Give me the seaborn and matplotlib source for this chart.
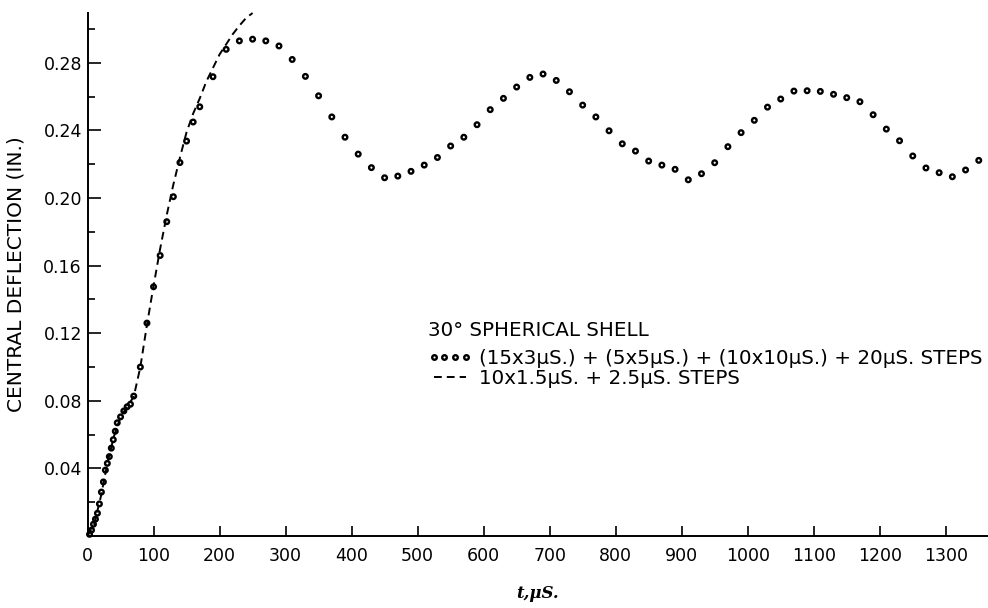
import matplotlib
matplotlib.use("Agg")
import matplotlib.pyplot as plt
import seaborn as sns
from matplotlib.lines import Line2D

# ---- data ----
circle_t = [3, 6, 9, 12, 15, 18, 21, 24, 27, 30, 33, 36, 39, 42, 45,
            50, 55, 60, 65, 70,
            80, 90, 100, 110, 120, 130, 140, 150, 160, 170,
            190, 210, 230, 250, 270, 290, 310, 330, 350, 370, 390, 410, 430, 450,
            470, 490, 510, 530, 550, 570, 590, 610, 630, 650, 670, 690, 710, 730,
            750, 770, 790, 810, 830, 850, 870, 890, 910, 930, 950, 970, 990, 1010,
            1030, 1050, 1070, 1090, 1110, 1130, 1150, 1170, 1190, 1210, 1230, 1250,
            1270, 1290, 1310, 1330, 1350]
circle_y = [0.001, 0.0035, 0.007, 0.010, 0.0135, 0.019, 0.026, 0.032, 0.039, 0.043,
            0.047, 0.052, 0.057, 0.062, 0.067,
            0.0705, 0.074, 0.0765, 0.078, 0.0828,
            0.100, 0.126, 0.1475, 0.166, 0.186, 0.2008, 0.221, 0.2337, 0.245, 0.254,
            0.2718, 0.288, 0.293, 0.294, 0.293, 0.290, 0.282, 0.272, 0.2605, 0.248,
            0.236, 0.226, 0.218, 0.212, 0.213, 0.2158, 0.2195, 0.224, 0.2308, 0.236,
            0.2434, 0.2523, 0.259, 0.2657, 0.2714, 0.2734, 0.2696, 0.2629, 0.255,
            0.248, 0.2398, 0.2321, 0.2278, 0.2219, 0.2195, 0.217, 0.2108, 0.2144,
            0.2209, 0.2304, 0.2387, 0.246, 0.2538, 0.2586, 0.2633, 0.2635, 0.2631,
            0.2614, 0.2594, 0.257, 0.2493, 0.2408, 0.2339, 0.2249, 0.2178, 0.215,
            0.2126, 0.2166, 0.2223]

dash_t = [0, 10, 20, 30, 40, 50, 60, 70, 80, 90, 100, 110, 120, 130, 140, 150,
          160, 170, 180, 190, 200, 210, 220, 230, 240, 250]
dash_y = [0.0, 0.007, 0.023, 0.043, 0.059, 0.0705, 0.0765, 0.0825, 0.100, 0.125,
          0.148, 0.170, 0.190, 0.208, 0.224, 0.239, 0.250, 0.259, 0.269, 0.277,
          0.285, 0.291, 0.297, 0.302, 0.3065, 0.3095]

x_ticks = [0, 100, 200, 300, 400, 500, 600, 700, 800, 900, 1000, 1100, 1200, 1300]
y_ticks = [0.04, 0.08, 0.12, 0.16, 0.20, 0.24, 0.28]
y_tick_labels = ["0.04", "0.08", "0.12", "0.16", "0.20", "0.24", "0.28"]
y_minor = [0.02, 0.06, 0.10, 0.14, 0.18, 0.22, 0.26, 0.30]

title_text = "30° SPHERICAL SHELL"
label_circles = "(15x3μS.) + (5x5μS.) + (10x10μS.) + 20μS. STEPS"
label_dashed = "10x1.5μS. + 2.5μS. STEPS"

# ---- style ----
sns.set_theme(style="ticks")
plt.rcParams['font.family'] = ['DejaVu Sans']
plt.rcParams['text.color'] = 'black'

fig = plt.figure(figsize=(9.88, 6.08), dpi=100)
fig.patch.set_facecolor("white")
ax = fig.add_axes([0.0886, 0.1184, 0.9114, 0.8602])
ax.set_facecolor("white")

dash_style = (0, (4, 2.6))
sns.lineplot(x=dash_t, y=dash_y, ax=ax, color="black", linewidth=1.4,
             linestyle=dash_style, sort=False, estimator=None, clip_on=False, zorder=2)
sns.scatterplot(x=circle_t, y=circle_y, ax=ax, marker="o", s=11,
                facecolor="none", edgecolor="black", linewidth=1.7, zorder=3,
                clip_on=False)

ax.set_xlim(0, 1364)
ax.set_ylim(0, 0.3095)
ax.set_xticks(x_ticks)
ax.set_xticklabels([str(v) for v in x_ticks])
ax.set_yticks(y_ticks)
ax.set_yticklabels(y_tick_labels)
ax.set_yticks(y_minor, minor=True)

ax.tick_params(axis="x", which="major", direction="in", length=7, width=1.2,
               pad=8, labelsize=12.5, colors="black")
ax.tick_params(axis="y", which="major", direction="in", length=9, width=1.2,
               pad=4, labelsize=12.5, colors="black")
ax.tick_params(axis="y", which="minor", direction="in", length=5, width=1.2,
               colors="black")

sns.despine(ax=ax)
for side in ("left", "bottom"):
    ax.spines[side].set_linewidth(1.4)
    ax.spines[side].set_color("black")

ax.set_ylabel("CENTRAL DEFLECTION (IN.)", fontsize=14.5, labelpad=13, color="black")
ax.set_xlabel("t,μS.", fontsize=12, labelpad=14, color="black",
              fontstyle="italic", fontweight="bold", family="DejaVu Serif")

# legend
handles = [
    Line2D([], [], marker="o", linestyle="none", markerfacecolor="none",
           markeredgecolor="black", markersize=3.3, markeredgewidth=1.7),
    Line2D([], [], color="black", linewidth=1.4, linestyle=dash_style),
]
ax.legend(handles, [label_circles, label_dashed], loc="upper left",
          bbox_to_anchor=(0.378, 0.3576), numpoints=4, frameon=False,
          handlelength=2.2, handletextpad=0.35, labelspacing=0.06,
          borderpad=0, borderaxespad=0, fontsize=14.3, labelcolor="black")
ax.text(0.378, 0.392, title_text, transform=ax.transAxes, fontsize=14.3,
        va="center", ha="left", color="black")

fig.savefig("out.png", dpi=100, facecolor="white")
